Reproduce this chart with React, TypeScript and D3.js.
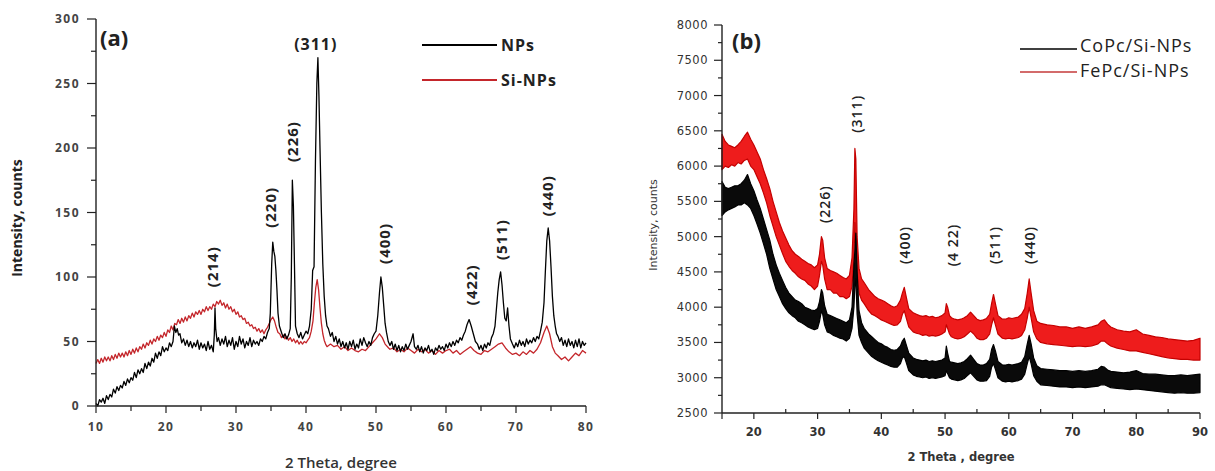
import React from "react";
import * as d3 from "d3";

// ---------- Panel (a) data: [2θ, intensity] ----------
const npsA: [number, number][] = [
  [10, 2], [10.25, 0], [10.5, 5], [10.75, 3], [11, 6], [11.25, 2], [11.5, 8], [11.75, 5], [12, 9], [12.25, 7],
  [12.5, 13], [12.75, 10], [13, 15], [13.25, 12], [13.5, 16], [13.75, 14], [14, 19], [14.25, 16], [14.5, 21], [14.75, 18],
  [15, 22], [15.25, 20], [15.5, 26], [15.75, 22], [16, 28], [16.25, 25], [16.5, 29], [16.75, 26], [17, 33], [17.25, 29],
  [17.5, 34], [17.75, 31], [18, 37], [18.25, 34], [18.5, 41], [18.75, 37], [19, 42], [19.25, 39], [19.5, 46], [19.75, 42],
  [20, 45], [20.25, 43], [20.5, 49], [20.75, 46], [21, 50], [21.2, 62], [21.4, 57], [21.6, 60], [21.8, 55], [22, 56],
  [22.25, 49], [22.5, 52], [22.75, 47], [23, 51], [23.25, 46], [23.5, 50], [23.75, 45], [24, 49], [24.25, 46], [24.5, 51],
  [24.75, 44], [25, 49], [25.25, 45], [25.5, 48], [25.75, 43], [26, 50], [26.25, 44], [26.5, 47], [26.75, 42], [26.9, 55],
  [27, 76], [27.1, 60], [27.3, 50], [27.5, 53], [27.75, 47], [28, 52], [28.25, 48], [28.5, 54], [28.75, 46], [29, 51],
  [29.25, 47], [29.5, 53], [29.75, 44], [30, 50], [30.25, 46], [30.5, 54], [30.75, 48], [31, 52], [31.25, 45], [31.5, 50],
  [31.75, 47], [32, 53], [32.25, 46], [32.5, 51], [32.75, 48], [33, 50], [33.25, 47], [33.5, 52], [33.75, 50], [34, 54],
  [34.25, 52], [34.5, 57], [34.75, 60], [34.9, 72], [35.1, 110], [35.25, 127], [35.4, 120], [35.55, 116], [35.7, 105],
  [35.85, 90], [36, 72], [36.2, 62], [36.5, 57], [36.75, 53], [37, 56], [37.25, 52], [37.5, 55], [37.75, 60], [37.9, 100],
  [38.05, 175], [38.2, 155], [38.35, 110], [38.5, 62], [38.75, 56], [39, 53], [39.25, 57], [39.5, 52], [39.75, 55],
  [40, 58], [40.25, 56], [40.5, 62], [40.75, 75], [40.95, 105], [41.15, 108], [41.35, 190], [41.55, 250], [41.7, 270],
  [41.85, 240], [42, 200], [42.2, 150], [42.4, 110], [42.6, 85], [42.8, 70], [43, 62], [43.2, 60], [43.5, 54],
  [43.75, 57], [44, 50], [44.25, 54], [44.5, 48], [44.75, 52], [45, 46], [45.25, 50], [45.5, 45], [45.75, 49], [46, 44],
  [46.25, 50], [46.5, 46], [46.75, 51], [47, 44], [47.25, 48], [47.5, 45], [47.75, 52], [48, 47], [48.25, 53], [48.5, 49],
  [48.75, 46], [49, 50], [49.25, 47], [49.5, 53], [49.75, 56], [50, 58], [50.25, 70], [50.5, 88], [50.7, 100], [50.9, 92],
  [51.1, 78], [51.3, 64], [51.5, 57], [51.75, 50], [52, 47], [52.25, 50], [52.5, 44], [52.75, 48], [53, 43], [53.25, 47],
  [53.5, 42], [53.75, 46], [54, 43], [54.25, 48], [54.5, 44], [54.75, 47], [55, 50], [55.3, 56], [55.5, 46], [55.75, 44],
  [56, 47], [56.25, 42], [56.5, 46], [56.75, 41], [57, 45], [57.25, 43], [57.5, 47], [57.75, 42], [58, 44], [58.25, 40],
  [58.5, 45], [58.75, 43], [59, 47], [59.25, 44], [59.5, 46], [59.75, 43], [60, 48], [60.25, 45], [60.5, 49], [60.75, 46],
  [61, 50], [61.25, 47], [61.5, 51], [61.75, 49], [62, 53], [62.25, 51], [62.5, 55], [62.75, 58], [63, 63], [63.3, 67],
  [63.6, 62], [63.9, 56], [64.2, 50], [64.5, 48], [64.75, 44], [65, 47], [65.25, 43], [65.5, 48], [65.75, 45], [66, 49],
  [66.25, 47], [66.5, 53], [66.75, 56], [67, 62], [67.2, 75], [67.4, 88], [67.6, 98], [67.8, 104], [68, 94], [68.2, 80],
  [68.4, 68], [68.6, 66], [68.8, 76], [69, 62], [69.2, 52], [69.5, 48], [69.75, 45], [70, 49], [70.25, 46], [70.5, 51],
  [70.75, 47], [71, 50], [71.25, 46], [71.5, 52], [71.75, 48], [72, 51], [72.25, 49], [72.5, 53], [72.75, 50], [73, 54],
  [73.25, 52], [73.5, 58], [73.75, 65], [74, 80], [74.2, 105], [74.4, 128], [74.6, 138], [74.8, 128], [75, 108],
  [75.2, 85], [75.4, 70], [75.6, 62], [75.8, 56], [76, 54], [76.25, 50], [76.5, 53], [76.75, 47], [77, 51], [77.25, 46],
  [77.5, 52], [77.75, 47], [78, 50], [78.25, 45], [78.5, 51], [78.75, 46], [79, 52], [79.25, 45], [79.5, 50], [79.75, 47],
  [80, 49],
];

const siNpsA: [number, number][] = [
  [10, 33], [10.25, 36], [10.5, 33], [10.75, 37], [11, 34], [11.25, 38], [11.5, 35], [11.75, 38], [12, 35], [12.25, 39],
  [12.5, 36], [12.75, 40], [13, 37], [13.25, 41], [13.5, 38], [13.75, 41], [14, 38], [14.25, 42], [14.5, 39], [14.75, 43],
  [15, 40], [15.25, 44], [15.5, 41], [15.75, 45], [16, 42], [16.25, 46], [16.5, 44], [16.75, 48], [17, 45], [17.25, 49],
  [17.5, 47], [17.75, 51], [18, 48], [18.25, 52], [18.5, 50], [18.75, 54], [19, 51], [19.25, 55], [19.5, 53], [19.75, 57],
  [20, 54], [20.25, 59], [20.5, 57], [20.75, 62], [21, 59], [21.25, 64], [21.5, 63], [21.75, 67], [22, 64], [22.25, 68],
  [22.5, 65], [22.75, 69], [23, 66], [23.25, 70], [23.5, 68], [23.75, 72], [24, 69], [24.25, 73], [24.5, 71], [24.75, 74],
  [25, 71], [25.25, 75], [25.5, 73], [25.75, 77], [26, 74], [26.25, 77], [26.5, 75], [26.75, 79], [27, 77], [27.25, 81],
  [27.5, 79], [27.75, 82], [28, 78], [28.25, 80], [28.5, 76], [28.75, 79], [29, 75], [29.25, 77], [29.5, 73], [29.75, 75],
  [30, 71], [30.25, 73], [30.5, 69], [30.75, 70], [31, 67], [31.25, 68], [31.5, 64], [31.75, 65], [32, 62], [32.25, 63],
  [32.5, 60], [32.75, 61], [33, 58], [33.25, 60], [33.5, 57], [33.75, 59], [34, 56], [34.25, 59], [34.5, 61], [34.75, 64],
  [35, 67], [35.25, 69], [35.5, 66], [35.75, 61], [36, 57], [36.25, 56], [36.5, 53], [36.75, 55], [37, 52], [37.25, 54],
  [37.5, 51], [37.75, 53], [38, 50], [38.25, 52], [38.5, 49], [38.75, 51], [39, 48], [39.25, 50], [39.5, 48], [39.75, 50],
  [40, 49], [40.25, 51], [40.5, 53], [40.75, 58], [41, 66], [41.2, 80], [41.4, 92], [41.6, 98], [41.8, 90], [42, 76],
  [42.2, 64], [42.4, 56], [42.6, 51], [42.8, 48], [43, 46], [43.5, 48], [44, 46], [44.5, 47], [45, 44], [45.5, 46],
  [46, 43], [46.5, 45], [47, 43], [47.5, 42], [48, 44], [48.5, 43], [49, 46], [49.5, 49], [50, 52], [50.5, 56],
  [50.9, 53], [51.3, 48], [51.8, 45], [52, 44], [52.5, 45], [53, 42], [53.5, 44], [54, 42], [54.5, 45], [55, 43],
  [55.5, 41], [56, 44], [56.5, 42], [57, 44], [57.5, 41], [58, 43], [58.5, 40], [59, 43], [59.5, 41], [60, 43],
  [60.5, 44], [61, 41], [61.5, 43], [62, 40], [62.5, 42], [63, 44], [63.5, 46], [64, 43], [64.5, 41], [65, 40],
  [65.5, 43], [66, 42], [66.5, 44], [67, 46], [67.5, 48], [68, 49], [68.5, 45], [69, 42], [69.5, 40], [70, 41],
  [70.5, 39], [71, 42], [71.5, 40], [72, 43], [72.5, 41], [73, 44], [73.5, 49], [74, 57], [74.4, 62], [74.8, 56],
  [75.2, 46], [75.6, 41], [76, 39], [76.5, 36], [77, 38], [77.5, 35], [78, 38], [78.5, 41], [79, 39], [79.5, 43],
  [80, 41],
];

const peaksA = [
  { text: "(214)", theta: 26.7, value: 108, rot: true },
  { text: "(220)", theta: 34.9, value: 154, rot: true },
  { text: "(226)", theta: 38.1, value: 205, rot: true },
  { text: "(311)", theta: 41.4, value: 280, rot: false },
  { text: "(400)", theta: 51.3, value: 126, rot: true },
  { text: "(422)", theta: 63.7, value: 94, rot: true },
  { text: "(511)", theta: 68.0, value: 129, rot: true },
  { text: "(440)", theta: 74.6, value: 163, rot: true },
];
const seriesNamesA = ["NPs", "Si-NPs"];

// ---------- Panel (b) data: [2θ, low, high] envelope of the noisy trace ----------
const coPcB: [number, number, number][] = [
  [15, 5300, 5780], [15.5, 5350, 5700], [16, 5380, 5680], [16.5, 5400, 5700], [17, 5420, 5720], [17.5, 5450, 5720],
  [18, 5450, 5750], [18.5, 5480, 5800], [19, 5450, 5880], [19.5, 5400, 5750], [20, 5300, 5650], [20.5, 5180, 5520],
  [21, 5050, 5400], [21.5, 4900, 5250], [22, 4750, 5100], [22.5, 4550, 4950], [23, 4400, 4750], [23.5, 4250, 4600],
  [24, 4150, 4480], [24.5, 4050, 4380], [25, 3980, 4280], [25.5, 3920, 4200], [26, 3880, 4150], [26.5, 3850, 4100],
  [27, 3800, 4080], [27.5, 3780, 4050], [28, 3750, 4000], [28.5, 3720, 3980], [29, 3700, 3960], [29.5, 3680, 3950],
  [30, 3700, 3980], [30.3, 3800, 4080], [30.6, 3950, 4250], [30.8, 3900, 4200], [31.1, 3750, 4020], [31.5, 3650, 3900],
  [32, 3630, 3880], [32.5, 3600, 3860], [33, 3580, 3840], [33.5, 3560, 3820], [34, 3550, 3800], [34.5, 3520, 3780],
  [35, 3560, 3820], [35.4, 3700, 4000], [35.7, 4000, 4600], [35.85, 4300, 4800], [36.0, 4400, 5050], [36.2, 3900, 4500],
  [36.5, 3600, 3950], [36.9, 3500, 3780], [37.3, 3420, 3700], [38, 3350, 3620], [38.5, 3300, 3580], [39, 3270, 3540],
  [39.5, 3240, 3500], [40, 3220, 3480], [40.5, 3200, 3450], [41, 3180, 3430], [41.5, 3160, 3400], [42, 3150, 3390],
  [42.5, 3150, 3400], [43, 3200, 3450], [43.3, 3280, 3520], [43.6, 3300, 3560], [43.9, 3220, 3470], [44.3, 3100, 3350],
  [45, 3040, 3280], [45.5, 3020, 3260], [46, 3010, 3250], [46.5, 3000, 3240], [47, 3010, 3250], [47.5, 2990, 3230],
  [48, 3000, 3240], [48.5, 2990, 3230], [49, 3000, 3240], [49.5, 3010, 3250], [50, 3030, 3280], [50.2, 3100, 3450],
  [50.4, 3060, 3350], [50.7, 3000, 3230], [51, 2980, 3220], [51.5, 2970, 3210], [52, 2960, 3200], [52.5, 2970, 3210],
  [53, 2990, 3230], [53.5, 3030, 3270], [54, 3070, 3320], [54.5, 3020, 3260], [55, 2970, 3200], [55.5, 2950, 3180],
  [56, 2950, 3180], [56.5, 2960, 3200], [57, 3020, 3260], [57.3, 3150, 3400], [57.6, 3200, 3470], [57.9, 3120, 3380],
  [58.3, 3000, 3230], [59, 2950, 3180], [59.5, 2940, 3180], [60, 2950, 3190], [60.5, 2940, 3180], [61, 2950, 3190],
  [61.5, 2960, 3200], [62, 2980, 3220], [62.5, 3050, 3300], [62.9, 3200, 3480], [63.2, 3300, 3600], [63.5, 3200, 3480],
  [63.9, 3030, 3280], [64.4, 2950, 3170], [65, 2900, 3130], [66, 2890, 3120], [67, 2880, 3110], [68, 2870, 3100],
  [69, 2870, 3100], [70, 2860, 3090], [71, 2870, 3100], [72, 2860, 3090], [73, 2870, 3100], [74, 2880, 3120],
  [74.5, 2900, 3160], [75, 2900, 3150], [75.5, 2880, 3110], [76, 2860, 3090], [77, 2850, 3080], [78, 2840, 3070],
  [79, 2830, 3080], [80, 2840, 3100], [81, 2830, 3060], [82, 2820, 3050], [83, 2810, 3050], [84, 2800, 3040],
  [85, 2790, 3030], [86, 2780, 3030], [87, 2790, 3040], [88, 2780, 3030], [89, 2780, 3040], [90, 2790, 3050],
];

const fePcB: [number, number, number][] = [
  [15, 5950, 6450], [15.5, 6000, 6350], [16, 5980, 6300], [16.5, 6020, 6280], [17, 6000, 6260], [17.5, 6050, 6300],
  [18, 6030, 6350], [18.5, 6080, 6420], [19, 6100, 6480], [19.5, 6000, 6380], [20, 5950, 6300], [20.5, 5850, 6200],
  [21, 5750, 6100], [21.5, 5620, 5950], [22, 5480, 5820], [22.5, 5300, 5680], [23, 5150, 5500], [23.5, 5000, 5350],
  [24, 4880, 5200], [24.5, 4760, 5080], [25, 4650, 4980], [25.5, 4580, 4880], [26, 4520, 4800], [26.5, 4480, 4750],
  [27, 4430, 4720], [27.5, 4400, 4680], [28, 4380, 4650], [28.5, 4330, 4620], [29, 4300, 4600], [29.5, 4250, 4560],
  [30, 4300, 4600], [30.3, 4450, 4750], [30.6, 4650, 5000], [30.8, 4600, 4950], [31.1, 4400, 4700], [31.5, 4250, 4550],
  [32, 4250, 4520], [32.5, 4200, 4500], [33, 4200, 4480], [33.5, 4150, 4450], [34, 4150, 4420], [34.5, 4120, 4400],
  [35, 4150, 4450], [35.4, 4300, 4700], [35.7, 4700, 5400], [35.85, 5200, 6250], [36.0, 4800, 6100], [36.2, 4500, 5000],
  [36.5, 4200, 4550], [36.9, 4100, 4400], [37.3, 4050, 4350], [38, 3950, 4250], [38.5, 3900, 4200], [39, 3880, 4150],
  [39.5, 3850, 4120], [40, 3820, 4100], [40.5, 3800, 4080], [41, 3780, 4050], [41.5, 3760, 4020], [42, 3740, 4000],
  [42.5, 3750, 4020], [43, 3800, 4100], [43.3, 3900, 4200], [43.6, 3950, 4280], [43.9, 3850, 4150], [44.3, 3720, 3980],
  [45, 3650, 3920], [45.5, 3630, 3900], [46, 3620, 3880], [46.5, 3600, 3870], [47, 3610, 3880], [47.5, 3590, 3860],
  [48, 3600, 3870], [48.5, 3590, 3850], [49, 3600, 3860], [49.5, 3620, 3880], [50, 3650, 3920], [50.2, 3750, 4050],
  [50.4, 3700, 4000], [50.7, 3620, 3880], [51, 3580, 3850], [51.5, 3560, 3830], [52, 3550, 3820], [52.5, 3560, 3830],
  [53, 3580, 3850], [53.5, 3620, 3880], [54, 3660, 3930], [54.5, 3620, 3880], [55, 3560, 3830], [55.5, 3540, 3810],
  [56, 3540, 3820], [56.5, 3560, 3840], [57, 3620, 3900], [57.3, 3750, 4050], [57.6, 3850, 4180], [57.9, 3750, 4050],
  [58.3, 3620, 3880], [59, 3560, 3830], [59.5, 3550, 3830], [60, 3560, 3850], [60.5, 3550, 3840], [61, 3560, 3850],
  [61.5, 3570, 3860], [62, 3600, 3900], [62.5, 3680, 3980], [62.9, 3850, 4200], [63.2, 4000, 4400], [63.5, 3850, 4200],
  [63.9, 3650, 3950], [64.4, 3550, 3800], [65, 3500, 3770], [66, 3480, 3750], [67, 3470, 3740], [68, 3460, 3720],
  [69, 3450, 3720], [70, 3440, 3700], [71, 3450, 3720], [72, 3440, 3700], [73, 3450, 3720], [74, 3480, 3750],
  [74.5, 3520, 3800], [75, 3520, 3820], [75.5, 3480, 3760], [76, 3450, 3720], [77, 3420, 3680], [78, 3400, 3660],
  [79, 3380, 3650], [80, 3380, 3680], [81, 3360, 3620], [82, 3340, 3600], [83, 3320, 3580], [84, 3300, 3570],
  [85, 3280, 3550], [86, 3270, 3540], [87, 3260, 3530], [88, 3260, 3520], [89, 3250, 3530], [90, 3250, 3560],
];

const peaksB = [
  { text: "(226)", theta: 31.2, value: 5460 },
  { text: "(311)", theta: 36.2, value: 6740 },
  { text: "(400)", theta: 43.7, value: 4880 },
  { text: "(4 22)", theta: 51.2, value: 4880 },
  { text: "(511)", theta: 57.8, value: 4880 },
  { text: "(440)", theta: 63.3, value: 4880 },
];
const seriesNamesB = ["CoPc/Si-NPs", "FePc/Si-NPs"];

const yTicksA = d3.range(0, 301, 50);
const yMinorA = d3.range(0, 301, 25);
const xTicksA = d3.range(10, 81, 10);
const xMinorA = d3.range(10, 81, 5);
const yTicksB = d3.range(2500, 8001, 500);
const yMinorB = d3.range(2500, 8001, 250);
const xTicksB = d3.range(20, 91, 10);
const xMinorB = d3.range(15, 91, 5);

const FA = "'Open Sans', 'Liberation Sans', sans-serif";
const FB = "'DejaVu Sans', sans-serif";

export default function App() {
  const xA = d3.scaleLinear().domain([10, 80]).range([96, 586]);
  const yA = d3.scaleLinear().domain([0, 300]).range([406, 19]);
  const xB = d3.scaleLinear().domain([15, 90]).range([722, 1200]);
  const yB = d3.scaleLinear().domain([2500, 8000]).range([413, 25]);

  const lineA = d3.line<[number, number]>().x((d) => xA(d[0])).y((d) => yA(d[1]));
  const areaB = d3
    .area<[number, number, number]>()
    .x((d) => xB(d[0]))
    .y0((d) => yB(d[1]))
    .y1((d) => yB(d[2]));

  const axisColor = "#222";
  const redA = "#c4262b";
  const redB = "#ee1c1c";

  return (
    <svg width={1215} height={471} style={{ position: "absolute", left: 0, top: 0, background: "#fff" }}>
      <rect x={0} y={0} width={1215} height={471} fill="#fff" />
      {/* ---------------- Panel (a) ---------------- */}
      <g>
        <path d={lineA(siNpsA) || ""} fill="none" stroke={redA} strokeWidth={1.3} strokeLinejoin="round" />
        <path d={lineA(npsA) || ""} fill="none" stroke="#000" strokeWidth={1.3} strokeLinejoin="round" />
        <line x1={xA(10)} x2={xA(10)} y1={yA(300)} y2={yA(0)} stroke={axisColor} strokeWidth={1.4} />
        <line x1={xA(10)} x2={xA(80)} y1={yA(0)} y2={yA(0)} stroke={axisColor} strokeWidth={1.4} />
        {yMinorA.map((v) => (
          <line key={"yma" + v} x1={xA(10) - (v % 50 === 0 ? 9 : 5)} x2={xA(10)} y1={yA(v)} y2={yA(v)} stroke={axisColor} strokeWidth={1.2} />
        ))}
        {xMinorA.map((v) => (
          <line key={"xma" + v} x1={xA(v)} x2={xA(v)} y1={yA(0)} y2={yA(0) + (v % 10 === 0 ? 7 : 5)} stroke={axisColor} strokeWidth={1.2} />
        ))}
        {yTicksA.map((v) => (
          <text key={"yta" + v} x={80} y={yA(v)} dy="0.35em" textAnchor="end" fontFamily={FA} fontWeight={700} fontSize={12} fill="#444" letterSpacing={1.5}>
            {v}
          </text>
        ))}
        {xTicksA.map((v) => (
          <text key={"xta" + v} x={xA(v)} y={427} dy="0.35em" textAnchor="middle" fontFamily={FA} fontWeight={700} fontSize={12} fill="#444" letterSpacing={1.5}>
            {v}
          </text>
        ))}
        <text x={341} y={463} dy="0.35em" textAnchor="middle" fontFamily={FA} fontWeight={600} fontSize={15} fill="#333">
          2 Theta, degree
        </text>
        <text transform="translate(17,218) rotate(-90)" dy="0.35em" textAnchor="middle" fontFamily={FA} fontWeight={700} fontSize={14} fill="#222">
          Intensity, counts
        </text>
        <text x={100} y={46} fontFamily={FA} fontWeight={700} fontSize={22} fill="#222">(a)</text>
        {peaksA.map((p) =>
          p.rot ? (
            <text key={p.text} transform={`translate(${xA(p.theta)},${yA(p.value)}) rotate(-90)`} dy="0.35em" textAnchor="middle" fontFamily={FA} fontWeight={700} fontSize={15} fill="#222" letterSpacing={1}>
              {p.text}
            </text>
          ) : (
            <text key={p.text} x={xA(p.theta)} y={yA(p.value)} dy="0.35em" textAnchor="middle" fontFamily={FA} fontWeight={700} fontSize={16} fill="#222" letterSpacing={1}>
              {p.text}
            </text>
          )
        )}
        {seriesNamesA.map((name, i) => (
          <g key={name}>
            <line x1={422} x2={497} y1={45 + i * 35} y2={45 + i * 35} stroke={i === 0 ? "#000" : redA} strokeWidth={2} />
            <text x={501} y={45 + i * 35} dy="0.35em" fontFamily={FA} fontWeight={700} fontSize={16} fill="#222" letterSpacing={1}>
              {name}
            </text>
          </g>
        ))}
      </g>

      {/* ---------------- Panel (b) ---------------- */}
      <g>
        <path d={areaB(fePcB) || ""} fill={redB} stroke="#c40000" strokeWidth={1.2} strokeLinejoin="round" />
        <path d={areaB(coPcB) || ""} fill="#0a0a0a" stroke="#000" strokeWidth={1.2} strokeLinejoin="round" />
        <line x1={xB(15)} x2={xB(15)} y1={yB(8000)} y2={yB(2500)} stroke={axisColor} strokeWidth={1.4} />
        <line x1={xB(15)} x2={xB(90)} y1={yB(2500)} y2={yB(2500)} stroke={axisColor} strokeWidth={1.4} />
        {yMinorB.map((v) => (
          <line key={"ymb" + v} x1={xB(15) - (v % 500 === 0 ? 8 : 4)} x2={xB(15)} y1={yB(v)} y2={yB(v)} stroke={axisColor} strokeWidth={1.2} />
        ))}
        {xMinorB.map((v) => {
          const major = v % 10 === 0 || v === 15;
          return (
            <line key={"xmb" + v} x1={xB(v)} x2={xB(v)} y1={yB(2500) + (major ? 0 : -4)} y2={yB(2500) + (major ? 6 : 0)} stroke={axisColor} strokeWidth={1.2} />
          );
        })}
        {yTicksB.map((v) => (
          <text key={"ytb" + v} x={708} y={yB(v)} dy="0.35em" textAnchor="end" fontFamily={FB} fontSize={11.5} fill="#333" letterSpacing={0.5}>
            {v}
          </text>
        ))}
        {xTicksB.map((v) => (
          <text key={"xtb" + v} x={xB(v)} y={432} dy="0.35em" textAnchor="middle" fontFamily={FB} fontWeight={700} fontSize={11.5} fill="#333">
            {v}
          </text>
        ))}
        <text x={961} y={457} dy="0.35em" textAnchor="middle" fontFamily={FB} fontWeight={700} fontSize={11.5} fill="#333">
          2 Theta , degree
        </text>
        <text transform="translate(653,225) rotate(-90)" dy="0.35em" textAnchor="middle" fontFamily={FB} fontSize={11} fill="#333">
          Intensity, counts
        </text>
        <text x={732} y={49} fontFamily={FA} fontWeight={700} fontSize={22} fill="#222">(b)</text>
        {peaksB.map((p) => (
          <text key={p.text} transform={`translate(${xB(p.theta)},${yB(p.value)}) rotate(-90)`} dy="0.35em" textAnchor="middle" fontFamily={FA} fontWeight={600} fontSize={14} fill="#222" letterSpacing={1}>
            {p.text}
          </text>
        ))}
        {seriesNamesB.map((name, i) => (
          <g key={name}>
            <line x1={1020} x2={1077} y1={49 + i * 23} y2={49 + i * 23} stroke={i === 0 ? "#000" : "#c43a3a"} strokeWidth={1.5} />
            <text x={1080} y={52 + i * 25} fontFamily={FA} fontSize={18} fill="#222" letterSpacing={1}>
              {name}
            </text>
          </g>
        ))}
      </g>
    </svg>
  );
}
